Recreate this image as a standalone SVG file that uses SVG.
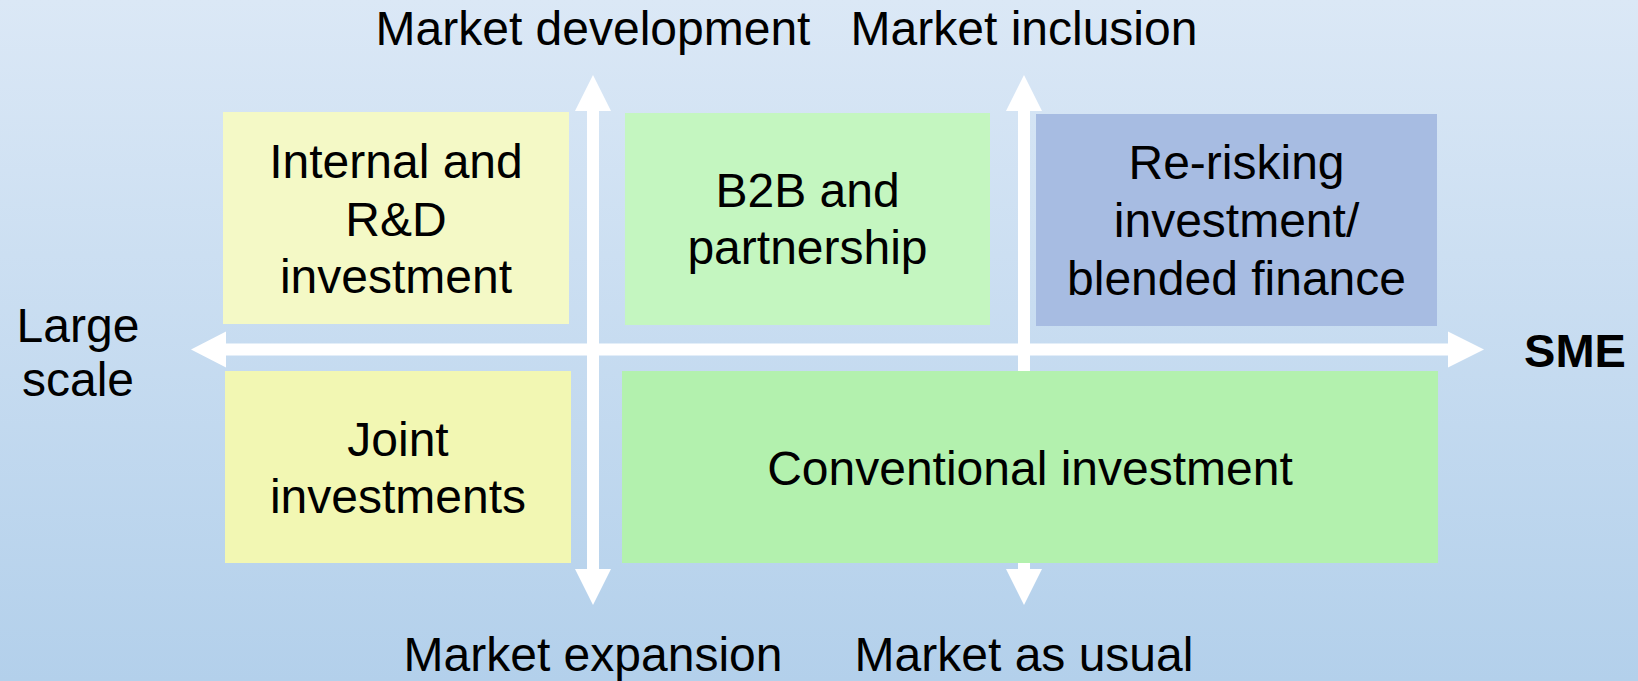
<svg xmlns="http://www.w3.org/2000/svg" width="1638" height="681" viewBox="0 0 1638 681">
<defs>
<linearGradient id="bg" x1="0" y1="0" x2="0" y2="1">
<stop offset="0" stop-color="#dbe8f6"/>
<stop offset="1" stop-color="#b3d0eb"/>
</linearGradient>
</defs>
<style>
text{font-family:"Liberation Sans",Arial,sans-serif;font-size:48px;fill:#000;text-anchor:middle}
.b{font-weight:bold;font-size:47px}
.arr{fill:#fff}
</style>
<rect x="0" y="0" width="1638" height="681" fill="url(#bg)"/>
<g id="connectors">
<polygon class="arr" points="191,349.5 226,331.5 226,343.5 1448,343.5 1448,331.5 1484,349.5 1448,367.5 1448,355.5 226,355.5 226,367.5"/>
<polygon class="arr" points="593,75 611,111 599,111 599,569 611,569 593,605 575,569 587,569 587,111 575,111"/>
<polygon class="arr" points="1024,75 1042,111 1030,111 1030,569 1042,569 1024,605 1006,569 1018,569 1018,111 1006,111"/>
</g>
<g id="axis-labels">
<text x="593" y="45">Market development</text>
<text x="1024" y="45">Market inclusion</text>
<text x="593" y="671">Market expansion</text>
<text x="1024" y="671">Market as usual</text>
<text x="78" y="342">Large</text>
<text x="78" y="396">scale</text>
<text class="b" x="1575" y="367">SME</text>
</g>
<g id="internal-rd">
<rect x="223" y="112" width="346" height="212" fill="#f4f9c6"/>
<text x="396" y="178">Internal and</text>
<text x="396" y="236">R&amp;D</text>
<text x="396" y="293">investment</text>
</g>
<g id="b2b">
<rect x="625" y="113" width="365" height="212" fill="#c4f6c0"/>
<text x="807.5" y="207">B2B and</text>
<text x="807.5" y="264">partnership</text>
</g>
<g id="rerisking">
<rect x="1036" y="114" width="401" height="212" fill="#a7bce2"/>
<text x="1236.5" y="179">Re-risking</text>
<text x="1236.5" y="237">investment/</text>
<text x="1236.5" y="295">blended finance</text>
</g>
<g id="joint">
<rect x="225" y="371" width="346" height="192" fill="#f2f7b3"/>
<text x="398" y="456">Joint</text>
<text x="398" y="513">investments</text>
</g>
<g id="conventional">
<rect x="622" y="371" width="816" height="192" fill="#b3f1ae"/>
<text x="1030" y="485">Conventional investment</text>
</g>
</svg>
